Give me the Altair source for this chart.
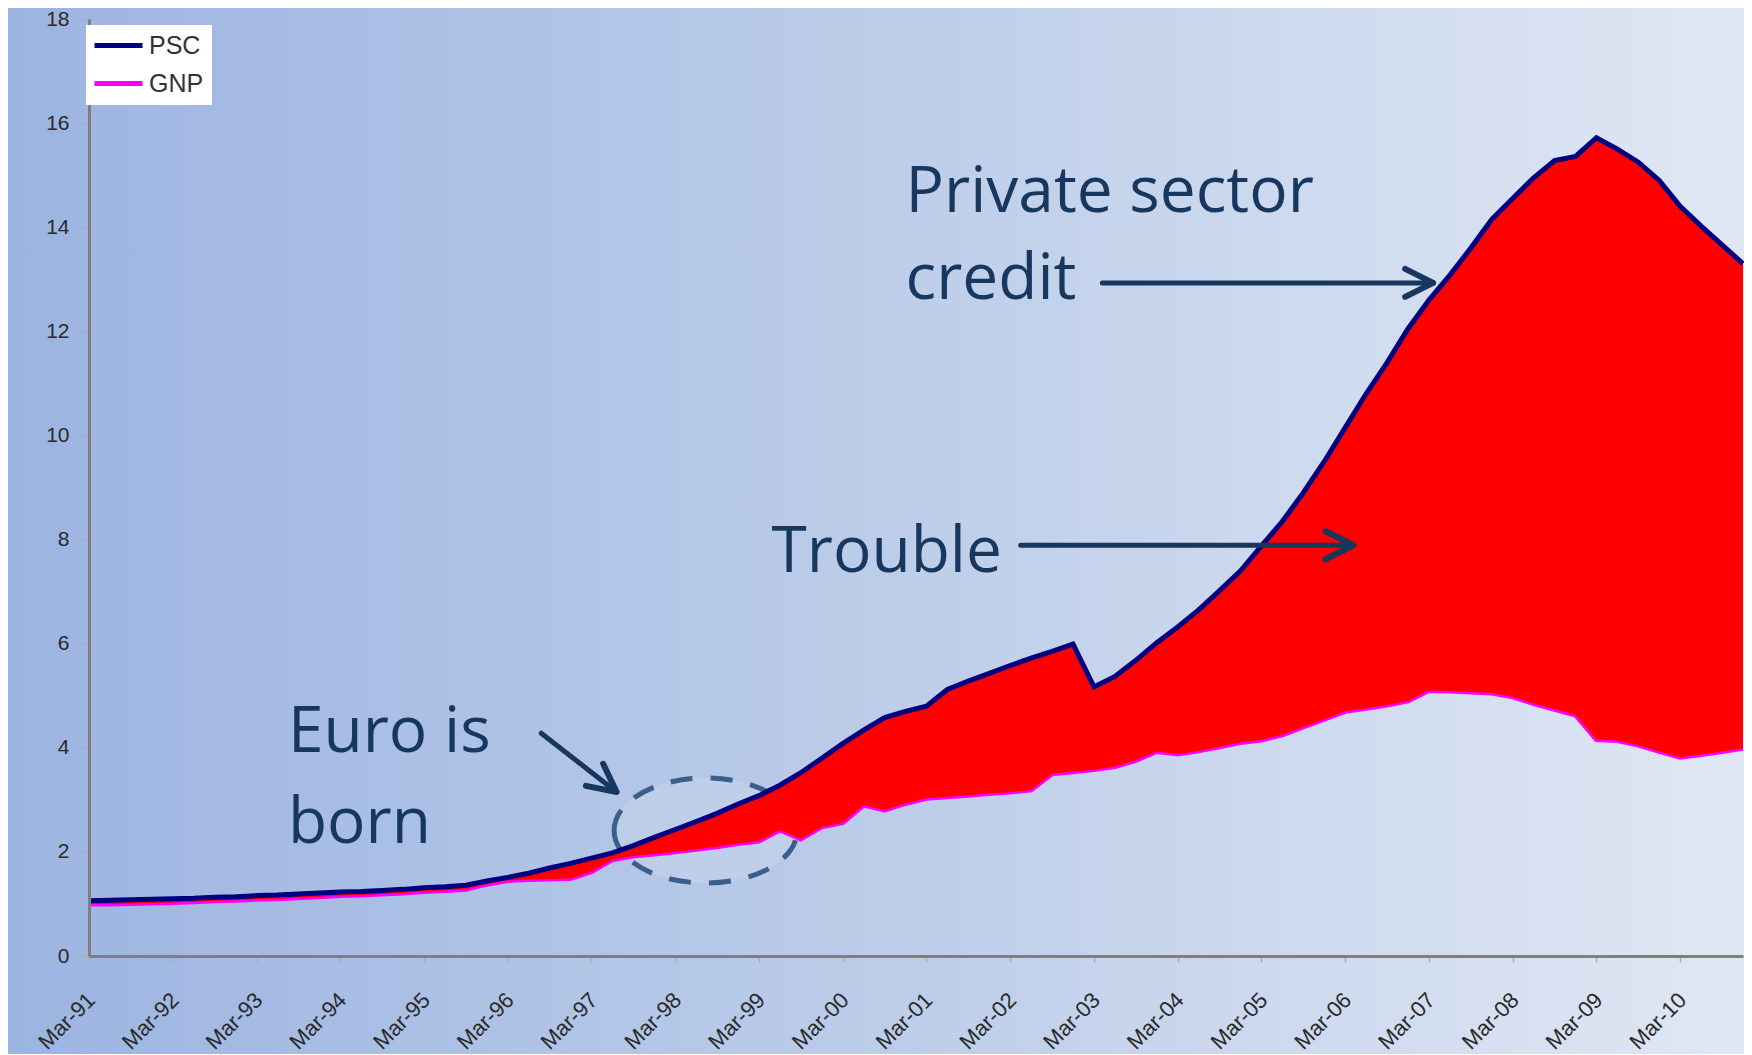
import altair as alt
import pandas as pd

# ---------------- data ----------------
TICK_LABELS = ["Mar-91", "Mar-92", "Mar-93", "Mar-94", "Mar-95", "Mar-96", "Mar-97",
               "Mar-98", "Mar-99", "Mar-00", "Mar-01", "Mar-02", "Mar-03", "Mar-04",
               "Mar-05", "Mar-06", "Mar-07", "Mar-08", "Mar-09", "Mar-10"]

SERIES_NAMES = ["PSC", "GNP"]
SERIES_COLORS = ["#000080", "#ff00ff"]

# quarterly index values, Mar-91 .. Dec-10
PSC = [1.06, 1.07, 1.08, 1.09, 1.10, 1.11, 1.13, 1.14, 1.16, 1.17,
       1.19, 1.21, 1.23, 1.24, 1.26, 1.28, 1.31, 1.33, 1.36, 1.44,
       1.51, 1.59, 1.69, 1.78, 1.88, 1.98, 2.12, 2.28, 2.43, 2.58,
       2.74, 2.92, 3.08, 3.28, 3.52, 3.80, 4.08, 4.34, 4.58, 4.70,
       4.80, 5.12, 5.28, 5.43, 5.58, 5.72, 5.85, 5.99, 5.17, 5.37,
       5.68, 6.02, 6.32, 6.65, 7.02, 7.40, 7.88, 8.35, 8.90, 9.50,
       10.15, 10.80, 11.40, 12.05, 12.60, 13.08, 13.60, 14.15, 14.55, 14.95,
       15.28, 15.36, 15.72, 15.50, 15.25, 14.90, 14.40, 14.02, 13.66, 13.30]

GNP = [1.00, 1.00, 1.01, 1.02, 1.03, 1.04, 1.06, 1.07, 1.09, 1.10,
       1.12, 1.14, 1.16, 1.17, 1.19, 1.21, 1.24, 1.26, 1.28, 1.38,
       1.45, 1.47, 1.48, 1.49, 1.62, 1.85, 1.92, 1.96, 2.00, 2.05,
       2.10, 2.16, 2.21, 2.42, 2.25, 2.48, 2.56, 2.90, 2.80, 2.93,
       3.03, 3.06, 3.09, 3.12, 3.15, 3.19, 3.50, 3.54, 3.58, 3.64,
       3.76, 3.93, 3.88, 3.94, 4.02, 4.10, 4.15, 4.25, 4.40, 4.55,
       4.70, 4.76, 4.82, 4.90, 5.10, 5.09, 5.07, 5.05, 4.98, 4.85,
       4.74, 4.63, 4.16, 4.14, 4.05, 3.93, 3.82, 3.87, 3.93, 3.99]

# annotations (x in quarters since Mar-91, y in index units)
TEXT_LABELS = ["Private sector", "credit", "Trouble", "Euro is", "born"]
TEXT_Q = [39.0, 39.0, 32.6, 9.5, 9.5]
TEXT_V = [14.29, 12.62, 7.38, 3.91, 2.18]

ARROW_Q0 = [48.4, 44.5, 21.6]
ARROW_V0 = [12.93, 7.89, 4.28]
ARROW_Q1 = [64.2, 60.4, 25.2]
ARROW_V1 = [12.93, 7.89, 3.15]
ARROW_ANGLE = [0, 0, 38]

ELLIPSE_Q = [29.45]
ELLIPSE_V = [2.41]

# ---------------- layout ----------------
W, H = 1654, 937
PAD = {"left": 81, "top": 11, "right": 1, "bottom": 98}
TEXT_COLOR = "#17375e"

n = len(PSC)
qs = list(range(n))
area_df = pd.DataFrame({"q": qs, "v": PSC, "v2": GNP})
psc_df = pd.DataFrame({"q": qs, "v": PSC, "series": ["PSC"] * n})
gnp_df = pd.DataFrame({"q": qs, "v": GNP, "series": ["GNP"] * n})
text_df = pd.DataFrame({"q": TEXT_Q, "v": TEXT_V, "label": TEXT_LABELS})
arrow_df = pd.DataFrame({"q": ARROW_Q0, "v": ARROW_V0, "q2": ARROW_Q1, "v2": ARROW_V1})
head_df = pd.DataFrame({"q": ARROW_Q1, "v": ARROW_V1, "angle": ARROW_ANGLE})
ell_df = pd.DataFrame({"q": ELLIPSE_Q, "v": ELLIPSE_V})

label_array = "[" + ",".join('"%s"' % s for s in TICK_LABELS) + "]"

x_axis = alt.Axis(
    values=list(range(0, 4 * len(TICK_LABELS), 4)),
    labelExpr=label_array + "[datum.value / 4]",
    labelAngle=-45, title=None, grid=False,
    domainColor="#7f7f7f", domainWidth=3,
    tickColor="#a8adb5", tickSize=6, tickWidth=1.5,
    labelFont="Liberation Sans", labelFontSize=22, labelColor="#2a2a2a",
    labelPadding=27, labelOffset=-5, labelOverlap=False, zindex=1,
)
y_axis = alt.Axis(
    values=list(range(0, 19, 2)), format="d", title=None, grid=False,
    domainColor="#7f7f7f", domainWidth=3,
    tickColor="#a8adb5", tickSize=6, tickWidth=1.5,
    labelFont="Liberation Sans", labelFontSize=21, labelColor="#2a2a2a",
    labelPadding=14, zindex=1,
)
x_scale = alt.Scale(domain=[0, n - 1], nice=False, zero=False)
y_scale = alt.Scale(domain=[0, 18], nice=False)
X = alt.X("q:Q", scale=x_scale, axis=x_axis)
Y = alt.Y("v:Q", scale=y_scale, axis=y_axis)

# gradient background (decoration, spans the whole drawing)
bg = alt.Chart(alt.Data(values=[{}])).mark_rect(
    fill=alt.Gradient(
        gradient="linear",
        stops=[alt.GradientStop(offset=0, color="#9cb4e1"),
               alt.GradientStop(offset=0.5, color="#bccde9"),
               alt.GradientStop(offset=1, color="#e0e7f4")],
        x1=0, x2=1, y1=0, y2=0,
    )
).encode(
    x=alt.value(-PAD["left"]), x2=alt.value(W + PAD["right"]),
    y=alt.value(-PAD["top"]), y2=alt.value(H + PAD["bottom"]),
)

ellipse_path = ("M -1 0 C -1 -0.317 -0.5523 -0.574 0 -0.574 "
                "C 0.5523 -0.574 1 -0.317 1 0 "
                "C 1 0.317 0.5523 0.574 0 0.574 "
                "C -0.5523 0.574 -1 0.317 -1 0 Z")
ellipse = alt.Chart(ell_df).mark_point(
    shape=ellipse_path, size=183 * 183, filled=True,
    fill="#c9d8ec", fillOpacity=0.45, stroke="#3a5f8b", strokeOpacity=1,
    strokeWidth=5, strokeDash=[22, 18], opacity=1,
).encode(x=X, y=Y)

color = alt.Color(
    "series:N",
    scale=alt.Scale(domain=SERIES_NAMES, range=SERIES_COLORS),
    legend=alt.Legend(
        title=None, orient="none", legendX=-3, legendY=6,
        fillColor="white", padding=8, zindex=1,
        symbolType="M -2.4 0 L 2.4 0", symbolSize=400, symbolStrokeWidth=5,
        symbolOffset=12, labelOffset=18, rowPadding=12,
        labelFont="Liberation Sans", labelFontSize=25, labelColor="#333333",
    ),
)

gnp_line = alt.Chart(gnp_df).mark_line(strokeWidth=5).encode(x=X, y=Y, color=color)
area = alt.Chart(area_df).mark_area(color="#ff0000", opacity=1).encode(
    x=X, y=Y, y2=alt.Y2("v2:Q"))
psc_line = alt.Chart(psc_df).mark_line(strokeWidth=5).encode(x=X, y=Y, color=color)

shafts = alt.Chart(arrow_df).mark_rule(
    color=TEXT_COLOR, strokeWidth=5, strokeCap="round").encode(
    x=X, y=Y, x2=alt.X2("q2:Q"), y2=alt.Y2("v2:Q"))
heads = alt.Chart(head_df).mark_point(
    shape="M -1 -0.5 L 0 0 L -1 0.5", size=3136, filled=False,
    stroke=TEXT_COLOR, strokeWidth=6, strokeCap="round", strokeJoin="round",
    opacity=1).encode(x=X, y=Y, angle=alt.Angle("angle:Q", scale=None))

texts = alt.Chart(text_df).mark_text(
    align="left", baseline="alphabetic", font="Open Sans", fontSize=64,
    color=TEXT_COLOR).encode(x=X, y=Y, text="label:N")

chart = alt.layer(bg, ellipse, gnp_line, area, psc_line, shafts, heads, texts).properties(
    width=W, height=H, padding=PAD,
    autosize=alt.AutoSizeParams(type="none"),
).configure(background="#bccde9").configure_view(stroke="#8a8e96", strokeWidth=3)

chart.save("out.html", embed_options={"renderer": "svg", "actions": False})
